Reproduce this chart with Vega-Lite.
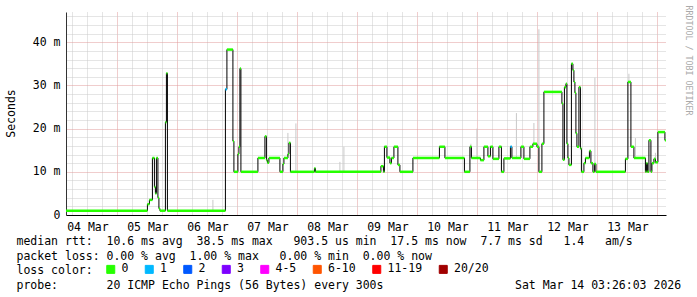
{
  "$schema": "https://vega.github.io/schema/vega-lite/v6.json",
  "width": 600,
  "height": 203,
  "autosize": "none",
  "padding": {"left": 66, "top": 12, "right": 31, "bottom": 82},
  "background": "#ffffff",
  "config": {
    "view": {"stroke": null},
    "font": "DejaVu Sans Mono",
    "axis": {"labelFont": "DejaVu Sans Mono", "titleFont": "DejaVu Sans Mono", "labelFontSize": 11.5, "titleFontSize": 11.5, "titleFontWeight": "normal", "labelColor": "#000000", "titleColor": "#000000"}
  },
  "datasets": {
    "median": [
      {"t": "2026-03-04T03:26:00Z", "v": 1.0, "loss": "0"},
      {"t": "2026-03-05T12:00:00Z", "v": 2.5, "loss": "0"},
      {"t": "2026-03-05T12:48:00Z", "v": 3.5, "loss": "0"},
      {"t": "2026-03-05T14:00:00Z", "v": 13.2, "loss": "0"},
      {"t": "2026-03-05T14:48:00Z", "v": 6.5, "loss": "0"},
      {"t": "2026-03-05T15:12:00Z", "v": 5.0, "loss": "0"},
      {"t": "2026-03-05T15:36:00Z", "v": 13.2, "loss": "0"},
      {"t": "2026-03-05T16:12:00Z", "v": 4.0, "loss": "0"},
      {"t": "2026-03-05T16:36:00Z", "v": 1.5, "loss": "0"},
      {"t": "2026-03-05T17:00:00Z", "v": 1.0, "loss": "0"},
      {"t": "2026-03-05T19:12:00Z", "v": 21.5, "loss": "0"},
      {"t": "2026-03-05T19:36:00Z", "v": 32.8, "loss": "0"},
      {"t": "2026-03-05T20:00:00Z", "v": 1.0, "loss": "0"},
      {"t": "2026-03-06T19:12:00Z", "v": 29.1, "loss": "1"},
      {"t": "2026-03-06T19:48:00Z", "v": 38.3, "loss": "0"},
      {"t": "2026-03-06T22:12:00Z", "v": 17.1, "loss": "0"},
      {"t": "2026-03-06T22:36:00Z", "v": 10.0, "loss": "0"},
      {"t": "2026-03-07T00:12:00Z", "v": 14.1, "loss": "0"},
      {"t": "2026-03-07T00:36:00Z", "v": 15.8, "loss": "0"},
      {"t": "2026-03-07T01:00:00Z", "v": 33.9, "loss": "0"},
      {"t": "2026-03-07T01:24:00Z", "v": 10.0, "loss": "0"},
      {"t": "2026-03-07T08:12:00Z", "v": 13.2, "loss": "0"},
      {"t": "2026-03-07T11:00:00Z", "v": 18.2, "loss": "0"},
      {"t": "2026-03-07T11:36:00Z", "v": 12.7, "loss": "0"},
      {"t": "2026-03-07T12:00:00Z", "v": 12.1, "loss": "0"},
      {"t": "2026-03-07T12:36:00Z", "v": 13.2, "loss": "0"},
      {"t": "2026-03-07T17:00:00Z", "v": 10.0, "loss": "0"},
      {"t": "2026-03-07T18:12:00Z", "v": 11.8, "loss": "0"},
      {"t": "2026-03-07T18:36:00Z", "v": 13.2, "loss": "0"},
      {"t": "2026-03-07T20:12:00Z", "v": 14.1, "loss": "0"},
      {"t": "2026-03-07T20:36:00Z", "v": 16.7, "loss": "0"},
      {"t": "2026-03-07T21:12:00Z", "v": 10.0, "loss": "0"},
      {"t": "2026-03-08T06:48:00Z", "v": 10.8, "loss": "0"},
      {"t": "2026-03-08T07:12:00Z", "v": 10.0, "loss": "0"},
      {"t": "2026-03-09T09:24:00Z", "v": 11.3, "loss": "0"},
      {"t": "2026-03-09T10:24:00Z", "v": 10.0, "loss": "0"},
      {"t": "2026-03-09T10:48:00Z", "v": 15.8, "loss": "0"},
      {"t": "2026-03-09T11:48:00Z", "v": 13.3, "loss": "0"},
      {"t": "2026-03-09T13:00:00Z", "v": 12.0, "loss": "0"},
      {"t": "2026-03-09T13:36:00Z", "v": 13.2, "loss": "0"},
      {"t": "2026-03-09T14:36:00Z", "v": 15.8, "loss": "0"},
      {"t": "2026-03-09T16:12:00Z", "v": 11.6, "loss": "0"},
      {"t": "2026-03-09T17:00:00Z", "v": 10.0, "loss": "0"},
      {"t": "2026-03-09T22:12:00Z", "v": 13.2, "loss": "0"},
      {"t": "2026-03-10T08:48:00Z", "v": 15.8, "loss": "0"},
      {"t": "2026-03-10T11:00:00Z", "v": 13.2, "loss": "0"},
      {"t": "2026-03-10T18:48:00Z", "v": 10.0, "loss": "0"},
      {"t": "2026-03-10T21:00:00Z", "v": 15.8, "loss": "0"},
      {"t": "2026-03-10T21:36:00Z", "v": 13.2, "loss": "0"},
      {"t": "2026-03-11T01:12:00Z", "v": 12.7, "loss": "0"},
      {"t": "2026-03-11T02:36:00Z", "v": 15.8, "loss": "0"},
      {"t": "2026-03-11T04:12:00Z", "v": 13.6, "loss": "0"},
      {"t": "2026-03-11T05:12:00Z", "v": 15.8, "loss": "0"},
      {"t": "2026-03-11T06:12:00Z", "v": 13.0, "loss": "0"},
      {"t": "2026-03-11T08:36:00Z", "v": 15.8, "loss": "0"},
      {"t": "2026-03-11T09:36:00Z", "v": 10.0, "loss": "0"},
      {"t": "2026-03-11T10:36:00Z", "v": 13.1, "loss": "0"},
      {"t": "2026-03-11T13:12:00Z", "v": 15.8, "loss": "1"},
      {"t": "2026-03-11T13:48:00Z", "v": 13.2, "loss": "0"},
      {"t": "2026-03-11T17:24:00Z", "v": 15.8, "loss": "0"},
      {"t": "2026-03-11T18:36:00Z", "v": 13.0, "loss": "0"},
      {"t": "2026-03-11T21:00:00Z", "v": 15.8, "loss": "0"},
      {"t": "2026-03-11T22:12:00Z", "v": 16.5, "loss": "0"},
      {"t": "2026-03-11T23:48:00Z", "v": 15.8, "loss": "0"},
      {"t": "2026-03-12T00:36:00Z", "v": 10.0, "loss": "0"},
      {"t": "2026-03-12T01:48:00Z", "v": 16.5, "loss": "0"},
      {"t": "2026-03-12T02:36:00Z", "v": 28.5, "loss": "0"},
      {"t": "2026-03-12T09:48:00Z", "v": 25.8, "loss": "0"},
      {"t": "2026-03-12T10:12:00Z", "v": 12.8, "loss": "0"},
      {"t": "2026-03-12T10:48:00Z", "v": 29.6, "loss": "0"},
      {"t": "2026-03-12T11:24:00Z", "v": 30.4, "loss": "0"},
      {"t": "2026-03-12T11:48:00Z", "v": 16.5, "loss": "0"},
      {"t": "2026-03-12T12:12:00Z", "v": 13.2, "loss": "0"},
      {"t": "2026-03-12T12:36:00Z", "v": 11.6, "loss": "0"},
      {"t": "2026-03-12T13:36:00Z", "v": 35.0, "loss": "0"},
      {"t": "2026-03-12T14:12:00Z", "v": 33.5, "loss": "0"},
      {"t": "2026-03-12T14:36:00Z", "v": 30.8, "loss": "0"},
      {"t": "2026-03-12T15:00:00Z", "v": 28.3, "loss": "0"},
      {"t": "2026-03-12T15:24:00Z", "v": 18.9, "loss": "0"},
      {"t": "2026-03-12T15:48:00Z", "v": 15.8, "loss": "0"},
      {"t": "2026-03-12T16:36:00Z", "v": 29.6, "loss": "0"},
      {"t": "2026-03-12T17:12:00Z", "v": 15.4, "loss": "0"},
      {"t": "2026-03-12T17:36:00Z", "v": 10.0, "loss": "0"},
      {"t": "2026-03-12T18:36:00Z", "v": 12.0, "loss": "0"},
      {"t": "2026-03-12T19:12:00Z", "v": 13.2, "loss": "0"},
      {"t": "2026-03-12T20:48:00Z", "v": 14.8, "loss": "0"},
      {"t": "2026-03-12T21:24:00Z", "v": 12.0, "loss": "0"},
      {"t": "2026-03-12T22:12:00Z", "v": 10.0, "loss": "0"},
      {"t": "2026-03-12T22:48:00Z", "v": 11.8, "loss": "0"},
      {"t": "2026-03-12T23:24:00Z", "v": 10.0, "loss": "0"},
      {"t": "2026-03-13T11:12:00Z", "v": 13.0, "loss": "0"},
      {"t": "2026-03-13T12:12:00Z", "v": 30.8, "loss": "0"},
      {"t": "2026-03-13T13:24:00Z", "v": 15.8, "loss": "0"},
      {"t": "2026-03-13T14:36:00Z", "v": 13.2, "loss": "0"},
      {"t": "2026-03-13T19:12:00Z", "v": 10.0, "loss": "0"},
      {"t": "2026-03-13T19:36:00Z", "v": 12.0, "loss": "0"},
      {"t": "2026-03-13T20:00:00Z", "v": 10.0, "loss": "0"},
      {"t": "2026-03-13T20:36:00Z", "v": 17.3, "loss": "0"},
      {"t": "2026-03-13T21:24:00Z", "v": 10.0, "loss": "0"},
      {"t": "2026-03-13T21:48:00Z", "v": 12.0, "loss": "0"},
      {"t": "2026-03-13T22:36:00Z", "v": 13.0, "loss": "0"},
      {"t": "2026-03-13T23:12:00Z", "v": 12.2, "loss": "0"},
      {"t": "2026-03-14T00:12:00Z", "v": 19.2, "loss": "0"},
      {"t": "2026-03-14T03:00:00Z", "v": 17.3, "loss": "0"},
      {"t": "2026-03-14T03:26:00Z", "v": 17.3, "loss": "0"}
    ],
    "smoke": [
      {"t": "2026-03-06T14:12:00Z", "lo": 1.0, "hi": 3.5},
      {"t": "2026-03-07T20:12:00Z", "lo": 14.0, "hi": 19.0},
      {"t": "2026-03-07T23:24:00Z", "lo": 10.0, "hi": 21.2},
      {"t": "2026-03-08T17:00:00Z", "lo": 10.0, "hi": 12.3},
      {"t": "2026-03-08T18:36:00Z", "lo": 10.0, "hi": 15.8},
      {"t": "2026-03-10T21:24:00Z", "lo": 13.2, "hi": 16.5},
      {"t": "2026-03-10T23:48:00Z", "lo": 13.2, "hi": 20.0},
      {"t": "2026-03-11T15:36:00Z", "lo": 13.2, "hi": 23.6},
      {"t": "2026-03-11T22:36:00Z", "lo": 16.5, "hi": 21.3},
      {"t": "2026-03-12T00:36:00Z", "lo": 10.0, "hi": 43.0},
      {"t": "2026-03-12T23:00:00Z", "lo": 10.0, "hi": 31.8},
      {"t": "2026-03-13T12:36:00Z", "lo": 30.8, "hi": 32.7},
      {"t": "2026-03-13T15:12:00Z", "lo": 13.2, "hi": 17.8},
      {"t": "2026-03-13T23:12:00Z", "lo": 12.2, "hi": 14.4}
    ]
  },
  "layer": [
    {
      "data": {"name": "smoke"},
      "mark": {"type": "rule", "color": "#c8c8c8", "strokeWidth": 1},
      "encoding": {
        "x": {
          "field": "t", "type": "temporal",
          "scale": {"type": "utc", "domain": [{"year": 2026, "month": 3, "date": 4, "hours": 3, "minutes": 26, "seconds": 3, "utc": true}, {"year": 2026, "month": 3, "date": 14, "hours": 3, "minutes": 26, "seconds": 3, "utc": true}]},
          "axis": {"orient": "bottom", "values": [
            {"year": 2026, "month": 3, "date": 4, "hours": 6, "utc": true}, {"year": 2026, "month": 3, "date": 4, "hours": 12, "utc": true}, {"year": 2026, "month": 3, "date": 4, "hours": 18, "utc": true},
            {"year": 2026, "month": 3, "date": 5, "hours": 6, "utc": true}, {"year": 2026, "month": 3, "date": 5, "hours": 12, "utc": true}, {"year": 2026, "month": 3, "date": 5, "hours": 18, "utc": true},
            {"year": 2026, "month": 3, "date": 6, "hours": 6, "utc": true}, {"year": 2026, "month": 3, "date": 6, "hours": 12, "utc": true}, {"year": 2026, "month": 3, "date": 6, "hours": 18, "utc": true},
            {"year": 2026, "month": 3, "date": 7, "hours": 6, "utc": true}, {"year": 2026, "month": 3, "date": 7, "hours": 12, "utc": true}, {"year": 2026, "month": 3, "date": 7, "hours": 18, "utc": true},
            {"year": 2026, "month": 3, "date": 8, "hours": 6, "utc": true}, {"year": 2026, "month": 3, "date": 8, "hours": 12, "utc": true}, {"year": 2026, "month": 3, "date": 8, "hours": 18, "utc": true},
            {"year": 2026, "month": 3, "date": 9, "hours": 6, "utc": true}, {"year": 2026, "month": 3, "date": 9, "hours": 12, "utc": true}, {"year": 2026, "month": 3, "date": 9, "hours": 18, "utc": true},
            {"year": 2026, "month": 3, "date": 10, "hours": 6, "utc": true}, {"year": 2026, "month": 3, "date": 10, "hours": 12, "utc": true}, {"year": 2026, "month": 3, "date": 10, "hours": 18, "utc": true},
            {"year": 2026, "month": 3, "date": 11, "hours": 6, "utc": true}, {"year": 2026, "month": 3, "date": 11, "hours": 12, "utc": true}, {"year": 2026, "month": 3, "date": 11, "hours": 18, "utc": true},
            {"year": 2026, "month": 3, "date": 12, "hours": 6, "utc": true}, {"year": 2026, "month": 3, "date": 12, "hours": 12, "utc": true}, {"year": 2026, "month": 3, "date": 12, "hours": 18, "utc": true},
            {"year": 2026, "month": 3, "date": 13, "hours": 6, "utc": true}, {"year": 2026, "month": 3, "date": 13, "hours": 12, "utc": true}, {"year": 2026, "month": 3, "date": 13, "hours": 18, "utc": true}
          ], "grid": true, "gridColor": "#cacaca", "gridDash": [1, 1], "labels": false, "ticks": false, "domain": false, "title": null}
        },
        "y": {
          "field": "lo", "type": "quantitative",
          "scale": {"domain": [0, 47], "nice": false},
          "axis": {"orient": "left", "values": [2, 4, 6, 8, 12, 14, 16, 18, 22, 24, 26, 28, 32, 34, 36, 38, 42, 44, 46], "grid": true, "gridColor": "#cacaca", "gridDash": [1, 1], "labels": false, "ticks": false, "domain": false, "title": null}
        },
        "y2": {"field": "hi"}
      }
    },
    {
      "data": {"name": "median"},
      "mark": {"type": "line", "interpolate": "step-after", "color": "#000000", "strokeWidth": 1},
      "encoding": {
        "x": {
          "field": "t", "type": "temporal",
          "scale": {"type": "utc"},
          "axis": {"orient": "bottom", "values": [
            {"year": 2026, "month": 3, "date": 5, "utc": true}, {"year": 2026, "month": 3, "date": 6, "utc": true}, {"year": 2026, "month": 3, "date": 7, "utc": true},
            {"year": 2026, "month": 3, "date": 8, "utc": true}, {"year": 2026, "month": 3, "date": 9, "utc": true}, {"year": 2026, "month": 3, "date": 10, "utc": true},
            {"year": 2026, "month": 3, "date": 11, "utc": true}, {"year": 2026, "month": 3, "date": 12, "utc": true}, {"year": 2026, "month": 3, "date": 13, "utc": true},
            {"year": 2026, "month": 3, "date": 14, "utc": true}
          ], "grid": true, "gridColor": "#e09a9a", "gridDash": [1, 1], "labels": false, "ticks": false, "domain": true, "domainColor": "#000000", "title": null}
        },
        "y": {
          "field": "v", "type": "quantitative",
          "axis": {"orient": "left", "values": [0, 10, 20, 30, 40], "grid": true, "gridColor": "#e09a9a", "gridDash": [1, 1], "ticks": false, "domain": true, "domainColor": "#333333", "labelPadding": 6, "labelExpr": "datum.value == 0 ? '0' : datum.value + ' m'", "title": "Seconds", "titleX": -55, "titleY": 101, "titleAngle": -90, "titleAlign": "center", "titleBaseline": "middle"}
        }
      }
    },
    {
      "data": {"name": "median"},
      "transform": [
        {"window": [{"op": "lead", "field": "t", "as": "t2"}], "sort": [{"field": "t", "order": "ascending"}]},
        {"filter": "datum.t2 != null"}
      ],
      "mark": {"type": "rule", "strokeWidth": 2.5},
      "encoding": {
        "x": {
          "field": "t", "type": "temporal",
          "scale": {"type": "utc"},
          "axis": {
            "orient": "bottom",
            "values": [
              {"year": 2026, "month": 3, "date": 4, "hours": 12, "utc": true},
              {"year": 2026, "month": 3, "date": 5, "hours": 12, "utc": true},
              {"year": 2026, "month": 3, "date": 6, "hours": 12, "utc": true},
              {"year": 2026, "month": 3, "date": 7, "hours": 12, "utc": true},
              {"year": 2026, "month": 3, "date": 8, "hours": 12, "utc": true},
              {"year": 2026, "month": 3, "date": 9, "hours": 12, "utc": true},
              {"year": 2026, "month": 3, "date": 10, "hours": 12, "utc": true},
              {"year": 2026, "month": 3, "date": 11, "hours": 12, "utc": true},
              {"year": 2026, "month": 3, "date": 12, "hours": 12, "utc": true},
              {"year": 2026, "month": 3, "date": 13, "hours": 12, "utc": true}
            ],
            "format": "%d %b", "grid": false, "ticks": false, "domain": false, "labelPadding": 6, "labelFlush": false, "labelOverlap": false, "labelBound": false,
            "title": [
              "median rtt:\u00a0\u00a010.6 ms avg\u00a0\u00a038.5 ms max\u00a0\u00a0\u00a0903.5 us min\u00a0\u00a017.5 ms now\u00a0\u00a07.7 ms sd\u00a0\u00a0\u00a01.4\u00a0\u00a0\u00a0am/s",
              "packet loss: 0.00 % avg\u00a0\u00a01.00 % max\u00a0\u00a0\u00a00.00 % min\u00a0\u00a00.00 % now",
              "loss color:",
              "probe:\u00a0\u00a0\u00a0\u00a0\u00a0\u00a0\u00a020 ICMP Echo Pings (56 Bytes) every 300s\u00a0\u00a0\u00a0\u00a0\u00a0\u00a0\u00a0\u00a0\u00a0\u00a0\u00a0\u00a0\u00a0\u00a0\u00a0\u00a0\u00a0\u00a0\u00a0Sat Mar 14 03:26:03 2026"
            ],
            "titleX": -50, "titleY": 20.5, "titleAlign": "left", "titleBaseline": "top", "titleLineHeight": 14.5, "titleLimit": 2000
          }
        },
        "x2": {"field": "t2"},
        "y": {
          "field": "v", "type": "quantitative",
          "axis": {"orient": "right", "grid": false, "labels": false, "ticks": false, "domain": false, "title": "RRDTOOL / TOBI OETIKER", "titleAngle": 90, "titleX": 21.5, "titleY": 48, "titleAlign": "center", "titleBaseline": "middle", "titleFontSize": 8.3, "titleColor": "#aaaaaa"}
        },
        "color": {
          "field": "loss", "type": "nominal",
          "scale": {"domain": ["0", "1", "2", "3", "4-5", "6-10", "11-19", "20/20"], "range": ["#26ff00", "#00b8ff", "#0059ff", "#7e00ff", "#ff00ff", "#ff5500", "#ff0000", "#a10000"]},
          "legend": {
            "orient": "none", "legendX": 39, "legendY": 251.5, "direction": "horizontal", "title": null,
            "symbolType": "square", "symbolSize": 64, "symbolStrokeColor": "#000000", "symbolStrokeWidth": 1,
            "labelFont": "DejaVu Sans Mono", "labelFontSize": 11.5, "labelColor": "#000000", "labelOffset": 5, "columnPadding": 13.5, "padding": 0,
            "encode": {"symbols": {"update": {"fill": {"scale": "color", "field": "value"}, "fillOpacity": {"value": 1}, "stroke": {"value": "#000000"}, "strokeWidth": {"value": 1}}}}
          }
        }
      }
    }
  ],
  "resolve": {"axis": {"x": "independent", "y": "independent"}}
}
